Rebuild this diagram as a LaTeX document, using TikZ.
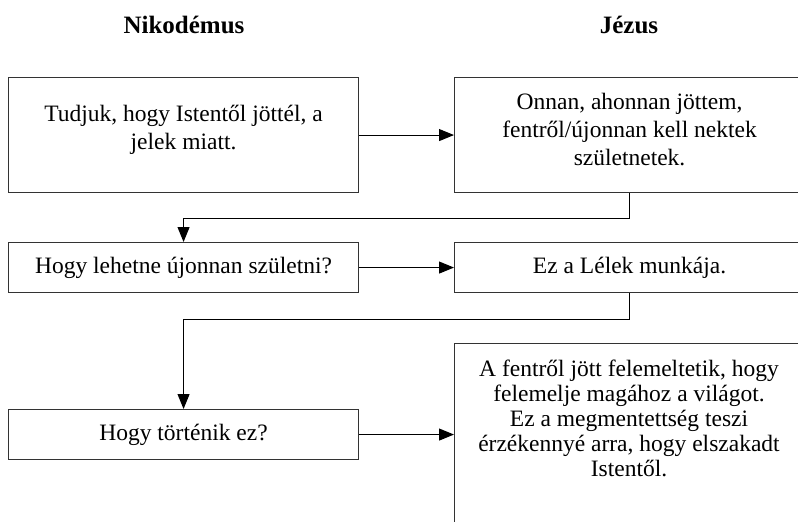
\documentclass[tikz,border=0pt]{standalone}
\usepackage{fontspec}
\setmainfont{Liberation Serif}
\usetikzlibrary{arrows.meta}
\begin{document}
\begin{tikzpicture}[x=1pt,y=-1pt,
  box/.style={draw=black!80,line width=1.1pt,rectangle,minimum width=350pt,inner sep=0pt,anchor=north west,align=center,font=\fontsize{23.5}{28}\selectfont},
  txt/.style={align=center,inner sep=0pt,font=\fontsize{23.5}{25}\selectfont},
  head/.style={font=\fontsize{25}{28}\selectfont\bfseries},
  arr/.style={draw=black,line width=1.1pt,-{Triangle[length=15pt,width=12pt]}}]
\useasboundingbox (0,0) rectangle (798,522);
\begin{scope}
\clip (0,0) rectangle (798,522);
\node[head] (hn) at (184,25) {Nikodémus};
\node[head] (hj) at (629,25) {Jézus};
\node[box,minimum height=115pt,text depth=15pt] (L1) at (8,77) {Tudjuk, hogy Istentől jöttél, a\\jelek miatt.};
\node[box,minimum height=115pt,text depth=12pt] (R1) at (454,77) {Onnan, ahonnan jöttem,\\fentről/újonnan kell nektek\\születnetek.};
\node[box,minimum height=50pt] (L2) at (8,242) {Hogy lehetne újonnan születni?};
\node[box,minimum height=50pt] (R2) at (454,242) {Ez a Lélek munkája.};
\node[box,minimum height=50pt] (L3) at (8,409) {Hogy történik ez?};
\node[box,minimum height=220pt] (R3) at (454,343) {};
\node[txt,anchor=north] (R3t) at (629,360) {A fentről jött felemeltetik, hogy\\felemelje magához a világot.\\Ez a megmentettség teszi\\érzékennyé arra, hogy elszakadt\\Istentől.};
\draw[arr] (L1.east) -- (R1.west |- L1.east);
\draw[arr] (R1.south) -- ++(0,25) -| (L2.north);
\draw[arr] (L2.east) -- (R2.west |- L2.east);
\draw[arr] (R2.south) -- ++(0,26) -| (L3.north);
\draw[arr] (L3.east) -- (R3.west |- L3.east);
\end{scope}
\end{tikzpicture}
\end{document}
